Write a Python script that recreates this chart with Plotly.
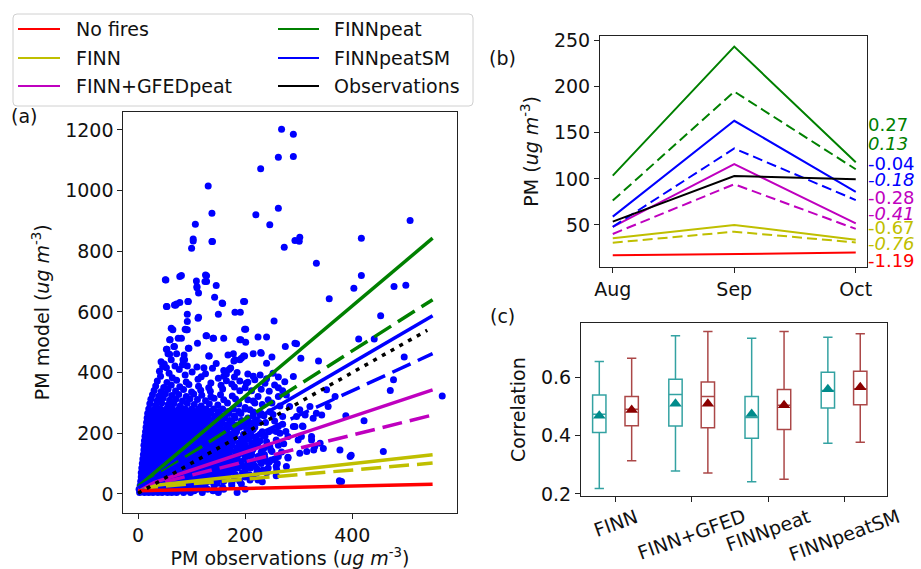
import plotly.graph_objects as go

FONT = "DejaVu Sans"
W, H = 921, 569
FS = 19

# ---------------- Panel (a): scatter of PM model vs PM observations ----------------
# isolated points (obs, model)
sparse_points = [
    (268, 1202), (290, 1186), (262, 1110), (290, 1112), (229, 1072), (131, 1015), (220, 920), (262, 942),
    (246, 887), (138, 925), (107, 889), (103, 840), (138, 832), (100, 810), (273, 813), (293, 835),
    (302, 846), (301, 833), (333, 760), (417, 843), (508, 901), (417, 720), (357, 643), (403, 678),
    (478, 684), (500, 688), (453, 587), (412, 511), (441, 511), (497, 451), (477, 376), (471, 341),
    (568, 323), (458, 140), (398, 127), (377, 41), (422, 241), (388, 258),
    (254, 570), (296, 495), (275, 486), (240, 517), (224, 517), (199, 634), (181, 599), (191, 599),
    (201, 543), (190, 508), (201, 500), (143, 648), (158, 628), (150, 592), (160, 513), (146, 687),
    (128, 700), (126, 722), (109, 702), (110, 684), (113, 662), (81, 720), (78, 717), (51, 706),
    (94, 634), (53, 618), (72, 626), (78, 631), (92, 541), (92, 592), (92, 568), (113, 582),
    (128, 521), (133, 455), (140, 513), (65, 541), (59, 508), (81, 513), (94, 480), (86, 458),
    (72, 462), (53, 477), (178, 462), (199, 455), (190, 442), (215, 462), (229, 466), (240, 431),
    (125, 700), (68, 623), (93, 634), (62, 546), (90, 541), (60, 508), (75, 513), (111, 497),
    (68, 486), (95, 480), (56, 462), (43, 436), (62, 442), (84, 442), (168, 458), (179, 438),
    (197, 455), (230, 464), (250, 451), (293, 497), (304, 447), (337, 438),
    (376, 43), (328, 145), (302, 134), (280, 121), (277, 90), (258, 90), (224, 46), (193, 33),
    (249, 112), (235, 123), (340, 167), (324, 178), (305, 189), (290, 222), (307, 224), (276, 206),
    (258, 206), (103, 834), (139, 832), (52, 705), (128, 719), (110, 680), (54, 618), (70, 622),
    (157, 629), (197, 634), (112, 579), (88, 543), (199, 543), (127, 521), (141, 513), (192, 508),
    (67, 486), (54, 477), (59, 460), (132, 455), (181, 442), (193, 447), (49, 428), (87, 442),
    (53, 416), (69, 422), (92, 422), (123, 416), (139, 414),
    (202, 365), (218, 376), (237, 365), (255, 359), (274, 370), (290, 387), (252, 398), (262, 321),
    (277, 326), (243, 310), (224, 321), (283, 288), (302, 277), (321, 288), (333, 266), (343, 260),
    (312, 260), (296, 255), (327, 249), (355, 288), (368, 321), (352, 343), (209, 277), (227, 266),
    (246, 271), (262, 222), (293, 222), (308, 222), (280, 189), (299, 178), (324, 189), (330, 156),
    (315, 140), (346, 150), (377, 145), (396, 123), (246, 156), (224, 167), (212, 189), (234, 194),
    (202, 145), (224, 123), (237, 118), (262, 123), (280, 118), (259, 79), (234, 79), (212, 96),
    (380, 41), (209, 46),
]

# right-hand, medium-density edge of the cloud (obs, model)
cloud_edge_points = [
    (205, 395), (215, 388), (228, 392), (240, 380), (262, 385), (200, 350), (212, 340), (230, 345),
    (245, 338), (262, 350), (270, 340), (205, 310), (218, 300), (232, 295), (250, 300), (265, 290),
    (200, 285), (215, 270), (235, 258), (252, 262), (270, 255), (205, 245), (220, 238), (238, 235),
    (255, 240), (270, 230), (198, 225), (215, 212), (232, 205), (250, 210), (265, 200), (205, 180),
    (222, 175), (240, 172), (258, 178), (272, 165), (200, 160), (215, 150), (232, 145), (250, 140),
    (268, 138), (210, 125), (228, 110), (245, 105), (260, 100), (205, 95), (222, 82), (240, 70),
    (258, 60), (215, 55), (232, 40), (165, 395), (180, 385), (190, 372), (175, 362), (160, 388),
    (185, 400), (170, 410),
]

# upper, looser part of the dense cloud (obs, model)
cloud_top_points = [
    (22, 297), (33, 292), (44, 300), (56, 294), (67, 298), (79, 291), (92, 299), (105, 295), (118, 290),
    (133, 297), (149, 293), (167, 300), (188, 296),
    (24, 312), (36, 308), (47, 316), (59, 309), (71, 313), (83, 306), (97, 314), (111, 311), (126, 307),
    (142, 315), (160, 310), (182, 313), (215, 306),
    (27, 327), (39, 322), (51, 330), (63, 324), (76, 328), (90, 321), (104, 329), (119, 325), (136, 320),
    (154, 327), (176, 323),
    (30, 341), (43, 337), (56, 345), (70, 339), (85, 344), (100, 336), (117, 342), (135, 338), (158, 346),
    (190, 340),
    (33, 356), (48, 351), (62, 359), (78, 353), (95, 361), (113, 355), (132, 350), (155, 358), (180, 352),
    (36, 372), (54, 367), (72, 375), (90, 369), (112, 378), (136, 366), (165, 373), (205, 368),
    (42, 388), (64, 383), (88, 392), (118, 386), (150, 381),
    (40, 404), (58, 398), (77, 410), (101, 402), (126, 396), (160, 407),
    (46, 420), (83, 426), (110, 418), (146, 430), (173, 415),
]

# dense lower cloud, read row by row: model level and the observation values along that row
blob_model_levels = [5, 10, 15, 22, 28, 35, 42, 49, 56, 63, 70, 77, 85, 92, 100, 107, 115, 122, 130, 137,
                     145, 152, 160, 167, 175, 182, 190, 197, 205, 212, 220, 227, 235, 242, 250, 257,
                     265, 272, 280]
blob_obs_rows = [
    [3, 12, 20, 28, 37, 45, 55, 63, 72, 85, 98, 120, 150, 185],
    [7, 16, 24, 32, 41, 50, 59, 67, 77, 90, 105, 140],
    [2, 9, 17, 26, 34, 42, 51, 60, 70, 80, 92, 110, 130, 160, 200],
    [6, 14, 23, 31, 40, 48, 57, 66, 76, 88, 102, 125, 158],
    [4, 11, 19, 27, 36, 44, 53, 62, 71, 83, 96, 115, 142, 175],
    [8, 17, 26, 35, 43, 52, 61, 71, 82, 94, 108, 126, 148, 175],
    [5, 13, 22, 30, 39, 48, 57, 66, 76, 88, 101, 118, 135, 160, 190],
    [9, 18, 27, 35, 44, 54, 63, 73, 84, 96, 110, 122, 140, 155, 180],
    [6, 14, 23, 31, 40, 50, 59, 68, 78, 90, 103, 115, 128, 146, 165, 200],
    [10, 19, 28, 37, 46, 56, 65, 75, 85, 97, 110, 124, 140, 158, 182, 208],
    [6, 15, 24, 33, 42, 51, 61, 70, 80, 91, 104, 117, 131, 149, 170, 195, 222],
    [11, 20, 29, 38, 47, 57, 66, 76, 87, 99, 112, 125, 141, 160, 178, 200, 232],
    [7, 16, 25, 34, 44, 53, 63, 72, 83, 94, 106, 119, 133, 151, 168, 186, 210, 243],
    [12, 21, 31, 40, 49, 59, 68, 78, 89, 101, 114, 127, 143, 159, 175, 195, 218],
    [8, 17, 26, 36, 45, 54, 64, 74, 85, 96, 108, 121, 135, 150, 166, 182, 205, 230],
    [13, 22, 32, 41, 51, 61, 71, 81, 92, 103, 116, 129, 144, 160, 176, 193, 215, 240],
    [9, 18, 27, 37, 46, 56, 66, 76, 86, 98, 110, 123, 137, 152, 168, 185, 200, 226, 255],
    [14, 24, 33, 43, 52, 62, 72, 82, 94, 106, 118, 131, 146, 162, 179, 200, 224],
    [10, 19, 29, 38, 48, 57, 67, 77, 88, 100, 112, 125, 139, 154, 170, 188, 212, 236],
    [15, 25, 34, 44, 54, 64, 74, 84, 96, 108, 120, 134, 148, 164, 182, 203, 230],
    [11, 20, 30, 40, 49, 59, 69, 79, 90, 102, 114, 127, 141, 156, 173, 192, 214, 248],
    [16, 26, 36, 46, 56, 66, 76, 87, 98, 110, 122, 136, 150, 166, 185, 208, 236],
    [11, 21, 31, 41, 51, 61, 71, 81, 92, 104, 116, 129, 144, 158, 175, 196, 220, 262],
    [17, 27, 37, 47, 57, 67, 77, 88, 100, 112, 124, 138, 153, 168, 188, 212],
    [12, 22, 32, 42, 52, 62, 72, 83, 94, 106, 118, 131, 146, 160, 178, 199, 228],
    [18, 28, 38, 48, 58, 69, 79, 90, 102, 114, 127, 141, 156, 172, 193, 220],
    [13, 23, 33, 43, 53, 64, 74, 85, 96, 108, 120, 134, 148, 163, 181, 205, 237],
    [19, 29, 39, 50, 60, 70, 81, 92, 104, 116, 129, 143, 158, 175, 197, 228],
    [14, 24, 34, 44, 55, 65, 76, 87, 98, 110, 122, 136, 150, 166, 184, 211, 244],
    [20, 30, 40, 51, 61, 72, 83, 94, 106, 118, 131, 146, 161, 180, 203],
    [15, 25, 35, 46, 56, 67, 78, 89, 100, 112, 125, 139, 153, 170, 190, 218],
    [21, 31, 42, 52, 63, 74, 85, 97, 109, 121, 134, 149, 165, 185, 210],
    [16, 27, 37, 47, 58, 69, 80, 91, 103, 115, 128, 142, 157, 175, 197, 226],
    [22, 33, 43, 54, 65, 76, 87, 100, 112, 125, 138, 154, 171, 193],
    [17, 28, 38, 49, 60, 71, 82, 94, 106, 119, 131, 146, 162, 181, 205],
    [23, 34, 45, 56, 67, 79, 91, 103, 116, 129, 144, 160, 180, 215],
    [18, 29, 40, 51, 62, 73, 85, 97, 110, 123, 136, 152, 170, 192, 230],
    [25, 36, 47, 58, 70, 82, 94, 106, 120, 134, 150, 168, 188],
    [20, 31, 42, 53, 64, 76, 88, 100, 113, 127, 141, 158, 178, 200],
]

# regression fits (intercept, slope) for each simulation; solid = one set, dashed = other set
fit_names = ["No fires", "FINN", "FINN+GFEDpeat", "FINNpeat", "FINNpeatSM"]
fit_colors = ["#FF0000", "#BFBF00", "#BF00BF", "#008000", "#0000FF"]
fit_int_solid = [10, 22, 20, 24, 20]
fit_slope_solid = [0.040, 0.195, 0.587, 1.489, 1.031]
fit_int_dash = [None, 18, 18, 22, 15]
fit_slope_dash = [None, 0.152, 0.44, 1.124, 0.813]
obs_fit_int, obs_fit_slope = 2, 0.995
fit_x_range = [0, 550]

# ---------------- Panel (b): monthly mean PM ----------------
months = ["Aug", "Sep", "Oct"]
pm_nofires = [17, 18.5, 20]
pm_finn = [35.5, 50, 34]
pm_finn_b = [30.8, 42.7, 31]
pm_gfed = [48, 116, 51.8]
pm_gfed_b = [40.2, 94.2, 45.7]
pm_peat = [103.5, 243.5, 118]
pm_peat_b = [76.4, 194.7, 110.4]
pm_peatsm = [59, 163, 86]
pm_peatsm_b = [48, 133, 77]
pm_observed = [53.6, 103, 99.6]

bias_labels = ["0.27", "0.13", "-0.04", "-0.18", "-0.28", "-0.41", "-0.67", "-0.76", "-1.19"]
bias_colors = ["#008000", "#008000", "#0000FF", "#0000FF", "#BF00BF", "#BF00BF", "#BFBF00", "#BFBF00", "#FF0000"]
bias_italic = [False, True, False, True, False, True, False, True, False]

# ---------------- Panel (c): correlation box plots ----------------
box_cats = ["FINN", "FINN+GFED", "FINNpeat", "FINNpeatSM"]
c1_low = [0.219, 0.279, 0.242, 0.374]
c1_q1 = [0.411, 0.433, 0.391, 0.495]
c1_med = [0.473, 0.541, 0.462, 0.555]
c1_q3 = [0.539, 0.593, 0.534, 0.617]
c1_high = [0.654, 0.742, 0.734, 0.737]
c1_mean = [0.468, 0.509, 0.474, 0.559]
c2_low = [0.314, 0.272, 0.250, 0.377]
c2_q1 = [0.434, 0.427, 0.421, 0.506]
c2_med = [0.490, 0.534, 0.504, 0.561]
c2_q3 = [0.534, 0.584, 0.558, 0.621]
c2_high = [0.665, 0.757, 0.757, 0.749]
c2_mean = [0.488, 0.509, 0.504, 0.566]

# ---------------------------------------------------------------------
def px_x(p):
    return p / W


def px_y(p):
    return 1 - p / H


fig = go.Figure()

obs_all = [p[0] for p in sparse_points + cloud_edge_points + cloud_top_points]
mod_all = [p[1] for p in sparse_points + cloud_edge_points + cloud_top_points]
for lvl, row in zip(blob_model_levels, blob_obs_rows):
    for xv in row:
        obs_all.append(xv)
        mod_all.append(lvl)

fig.add_trace(go.Scatter(x=obs_all, y=mod_all, mode="markers",
                         marker=dict(color="#0000FF", size=7, line=dict(width=0)),
                         showlegend=False, xaxis="x", yaxis="y"))

for name, col, a, b in zip(fit_names, fit_colors, fit_int_dash, fit_slope_dash):
    if a is None:
        continue
    fig.add_trace(go.Scatter(x=fit_x_range, y=[a + b * v for v in fit_x_range], mode="lines",
                             line=dict(color=col, width=3.5, dash="20px,8px"),
                             showlegend=False, xaxis="x", yaxis="y"))
for name, col, a, b in zip(fit_names, fit_colors, fit_int_solid, fit_slope_solid):
    fig.add_trace(go.Scatter(x=fit_x_range, y=[a + b * v for v in fit_x_range], mode="lines",
                             line=dict(color=col, width=3.5),
                             showlegend=False, xaxis="x", yaxis="y"))
fig.add_trace(go.Scatter(x=[0, 540], y=[obs_fit_int, obs_fit_int + obs_fit_slope * 540], mode="lines",
                         line=dict(color="black", width=3.5, dash="4px,6px"),
                         showlegend=False, xaxis="x", yaxis="y"))

# panel b
b_series = [
    (pm_nofires, "#FF0000", "solid"),
    (pm_finn, "#BFBF00", "solid"), (pm_finn_b, "#BFBF00", "10px,5px"),
    (pm_gfed, "#BF00BF", "solid"), (pm_gfed_b, "#BF00BF", "10px,5px"),
    (pm_peat, "#008000", "solid"), (pm_peat_b, "#008000", "10px,5px"),
    (pm_peatsm, "#0000FF", "solid"), (pm_peatsm_b, "#0000FF", "10px,5px"),
    (pm_observed, "black", "solid"),
]
for vals, col, dash in b_series:
    fig.add_trace(go.Scatter(x=months, y=vals, mode="lines", line=dict(color=col, width=2, dash=dash),
                             showlegend=False, xaxis="x2", yaxis="y2"))

# panel c
pos = list(range(len(box_cats)))
for offs, lo, q1, md, q3, hi, mn, lc, mc in [
    (-0.215, c1_low, c1_q1, c1_med, c1_q3, c1_high, c1_mean, "rgba(0,139,139,0.8)", "#008B8B"),
    (0.21, c2_low, c2_q1, c2_med, c2_q3, c2_high, c2_mean, "rgba(139,0,0,0.72)", "#8B0000"),
]:
    xs = [p + offs for p in pos]
    fig.add_trace(go.Box(x=xs, q1=q1, median=md, q3=q3, lowerfence=lo, upperfence=hi,
                         width=0.175, whiskerwidth=0.7, fillcolor="rgba(255,255,255,0)",
                         line=dict(color=lc, width=1.5), boxpoints=False,
                         showlegend=False, xaxis="x3", yaxis="y3"))
    fig.add_trace(go.Scatter(x=xs, y=mn, mode="markers",
                             marker=dict(symbol="triangle-up", size=11, color=mc),
                             showlegend=False, xaxis="x3", yaxis="y3"))

axis_common = dict(showline=True, mirror=True, linecolor="#222", linewidth=1, ticks="outside",
                   ticklen=5, tickcolor="#222", showgrid=False, zeroline=False, automargin=False,
                   tickfont=dict(family=FONT, size=FS, color="#111"))
title_font = dict(family=FONT, size=FS, color="#111")

fig.update_layout(
    width=W, height=H, margin=dict(l=0, r=0, t=0, b=0, pad=0, autoexpand=False),
    paper_bgcolor="white", plot_bgcolor="white", showlegend=False,
    font=dict(family=FONT, size=FS, color="#111"),
    xaxis=dict(domain=[px_x(123.3), px_x(456.7)], range=[-27.5, 595], tickvals=[0, 200, 400],
               title=dict(text="PM observations (<i>ug m</i><sup>-3</sup>)", font=title_font, standoff=2),
               anchor="y", **axis_common),
    yaxis=dict(domain=[px_y(512.7), px_y(111.7)], range=[-62, 1260],
               tickvals=[0, 200, 400, 600, 800, 1000, 1200],
               title=dict(text="PM model (<i>ug m</i><sup>-3</sup>)", font=title_font, standoff=10),
               anchor="x", **axis_common),
    xaxis2=dict(domain=[px_x(600), px_x(866.7)], range=[-0.105, 2.09], type="category",
                anchor="y2", **axis_common),
    yaxis2=dict(domain=[px_y(266.7), px_y(36)], range=[4.7, 255], tickvals=[50, 100, 150, 200, 250],
                title=dict(text="PM (<i>ug m</i><sup>-3</sup>)", font=title_font, standoff=10),
                anchor="x2", **axis_common),
    xaxis3=dict(domain=[px_x(581), px_x(887.3)], range=[-0.455, 3.565], tickvals=pos,
                showticklabels=False, anchor="y3", **axis_common),
    yaxis3=dict(domain=[px_y(496), px_y(323.3)], range=[0.193, 0.785], tickvals=[0.2, 0.4, 0.6],
                tickformat=".1f",
                title=dict(text="Correlation", font=title_font, standoff=10),
                anchor="x3", **axis_common),
)

annotations = []
for txt, xp, yp in [("(a)", 24, 116), ("(b)", 502, 58), ("(c)", 502, 316)]:
    annotations.append(dict(text=txt, x=px_x(xp), y=px_y(yp), xref="paper", yref="paper",
                            xanchor="center", yanchor="middle",
                            showarrow=False, font=dict(family=FONT, size=FS, color="#111")))

# rotated category labels of panel (c)
for i, txt in enumerate(box_cats):
    annotations.append(dict(text=txt, x=i, y=px_y(502), xref="x3", yref="paper", textangle=-20,
                            xanchor="center", yanchor="top", showarrow=False,
                            font=dict(family=FONT, size=FS, color="#111")))

bias_y_px = [125, 143, 163, 180, 197, 213, 227, 243, 260]
for txt, col, it, yp in zip(bias_labels, bias_colors, bias_italic, bias_y_px):
    annotations.append(dict(text=f"<i>{txt}</i>" if it else txt, x=px_x(866), y=px_y(yp),
                            xref="paper", yref="paper", xanchor="left", yanchor="middle",
                            showarrow=False, font=dict(family=FONT, size=18, color=col)))

# legend (drawn box with rounded corners)
legend_items = [("No fires", "#FF0000"), ("FINN", "#BFBF00"), ("FINN+GFEDpeat", "#BF00BF"),
                ("FINNpeat", "#008000"), ("FINNpeatSM", "#0000FF"), ("Observations", "black")]
lx0, lx1, ly0, ly1 = px_x(13), px_x(473), px_y(106), px_y(14)
rx, ry = 4 / W, 4 / H
legend_path = (f"M {lx0 + rx},{ly0} L {lx1 - rx},{ly0} Q {lx1},{ly0} {lx1},{ly0 + ry} "
               f"L {lx1},{ly1 - ry} Q {lx1},{ly1} {lx1 - rx},{ly1} L {lx0 + rx},{ly1} "
               f"Q {lx0},{ly1} {lx0},{ly1 - ry} L {lx0},{ly0 + ry} Q {lx0},{ly0} {lx0 + rx},{ly0} Z")
shapes = [dict(type="path", xref="paper", yref="paper", path=legend_path,
               line=dict(color="#d0d0d0", width=1), fillcolor="rgba(255,255,255,0.85)")]
row_y = [29, 58, 86]
col_x = [(18, 60, 74), (278, 319, 332)]
for i, (txt, col) in enumerate(legend_items):
    c, r = divmod(i, 3)
    x0, x1, xt = col_x[c]
    shapes.append(dict(type="line", xref="paper", yref="paper", x0=px_x(x0), x1=px_x(x1),
                       y0=px_y(row_y[r]), y1=px_y(row_y[r]), line=dict(color=col, width=2)))
    annotations.append(dict(text=txt, x=px_x(xt), y=px_y(row_y[r]), xref="paper", yref="paper",
                            xanchor="left", yanchor="middle", showarrow=False,
                            font=dict(family=FONT, size=FS, color="#111")))

fig.update_layout(annotations=annotations, shapes=shapes)
fig.write_html(
    "out.html",
    config={"displayModeBar": False},
    post_script=("document.documentElement.style.margin='0px';document.body.style.margin='0px';"
                 "document.body.style.overflow='hidden';document.documentElement.style.overflow='hidden';"),
)
